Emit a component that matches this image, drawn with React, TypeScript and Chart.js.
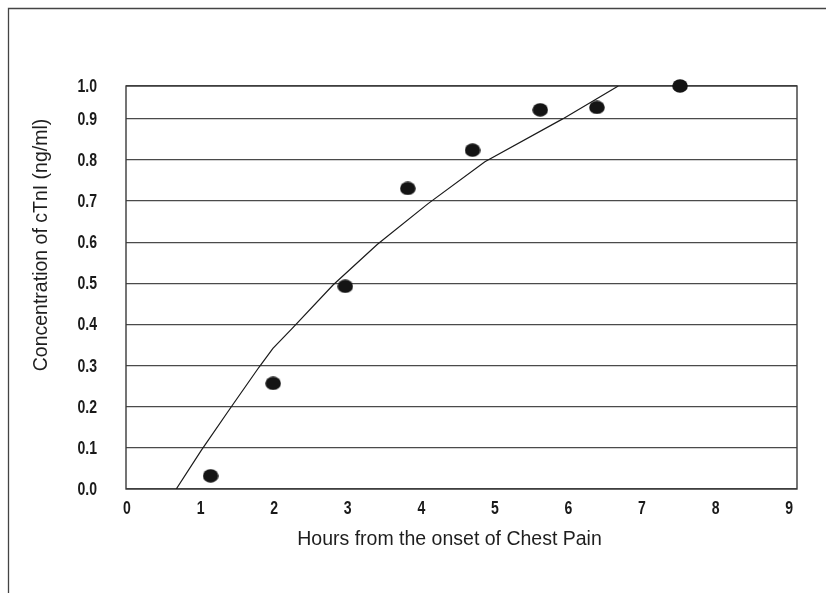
import React, { useEffect, useRef } from "react";
import { Chart, registerables } from "chart.js";

Chart.register(...registerables);

// Observed data points (hours, ng/ml)
const hours = [1.15, 2.0, 2.98, 3.83, 4.71, 5.63, 6.4, 7.53];
const ctni = [0.032, 0.257, 0.493, 0.731, 0.824, 0.922, 0.928, 0.98];

// Fitted curve drawn in the figure (hours, ng/ml)
const fitHours = [0.683, 1.023, 1.408, 1.807, 1.997, 2.256, 2.814, 3.418, 4.106, 4.878, 5.935, 6.691];
const fitCtni = [0, 0.094, 0.194, 0.296, 0.342, 0.39, 0.496, 0.595, 0.694, 0.796, 0.9, 0.98];

// Axis ticks (the top gridline of the original is labelled 1.0)
const xTickValues = [0, 1, 2, 3, 4, 5, 6, 7, 8, 9];
const xTickLabels = ["0", "1", "2", "3", "4", "5", "6", "7", "8", "9"];
const yTickValues = [0, 0.1, 0.2, 0.3, 0.4, 0.5, 0.6, 0.7, 0.8, 0.9, 0.98];
const yTickLabels = ["0.0", "0.1", "0.2", "0.3", "0.4", "0.5", "0.6", "0.7", "0.8", "0.9", "1.0"];

const xTitle = "Hours from the onset of Chest Pain";
const yTitle = "Concentration of cTnI (ng/ml)";

const TICK_FONT = "bold 18px 'Liberation Sans', Arial, sans-serif";
const TITLE_FONT = "19.5px 'Liberation Sans', Arial, sans-serif";

function makeDot(): HTMLCanvasElement {
  const c = document.createElement("canvas");
  c.width = 16;
  c.height = 14;
  const g = c.getContext("2d")!;
  g.fillStyle = "#141414";
  g.beginPath();
  g.ellipse(8, 7, 7.8, 6.8, 0, 0, Math.PI * 2);
  g.fill();
  return c;
}

export default function App() {
  const ref = useRef<HTMLCanvasElement | null>(null);

  useEffect(() => {
    if (!ref.current) return;

    const decor = {
      id: "decor",
      beforeDraw(chart: any) {
        const ctx = chart.ctx;
        ctx.save();
        ctx.fillStyle = "#ffffff";
        ctx.fillRect(0, 0, chart.width, chart.height);
        ctx.strokeStyle = "#444444";
        ctx.lineWidth = 1.3;
        ctx.beginPath();
        ctx.moveTo(8.5, chart.height);
        ctx.lineTo(8.5, 8.5);
        ctx.lineTo(chart.width, 8.5);
        ctx.stroke();
        ctx.restore();
      },
      beforeDatasetsDraw(chart: any) {
        const ctx = chart.ctx;
        const a = chart.chartArea;
        ctx.save();
        ctx.strokeStyle = "#3a3a3a";
        ctx.lineWidth = 1.4;
        ctx.strokeRect(a.left, a.top, a.right - a.left, a.bottom - a.top);
        ctx.restore();
      },
      afterDraw(chart: any) {
        const ctx = chart.ctx;
        const a = chart.chartArea;
        const xs = chart.scales.x;
        const ys = chart.scales.y;
        ctx.save();

        // tick labels (condensed bold, as in the original)
        ctx.fillStyle = "#1a1a1a";
        ctx.font = TICK_FONT;
        ctx.textBaseline = "middle";
        ctx.textAlign = "right";
        yTickValues.forEach((v, i) => {
          ctx.save();
          ctx.translate(a.left - 29, ys.getPixelForValue(v) + 1);
          ctx.scale(0.78, 1);
          ctx.fillText(yTickLabels[i], 0, 0);
          ctx.restore();
        });
        ctx.textAlign = "center";
        xTickValues.forEach((v, i) => {
          ctx.save();
          ctx.translate(xs.getPixelForValue(v) + 1, a.bottom + 20);
          ctx.scale(0.78, 1);
          ctx.fillText(xTickLabels[i], 0, 0);
          ctx.restore();
        });

        // axis titles
        ctx.fillStyle = "#1e1e1e";
        ctx.font = TITLE_FONT;
        ctx.textAlign = "center";
        ctx.textBaseline = "middle";
        ctx.fillText(xTitle, a.left + 323.5, a.bottom + 50.5);
        ctx.translate(a.left - 84.5, a.top + 159);
        ctx.rotate(-Math.PI / 2);
        ctx.fillText(yTitle, 0, 0);
        ctx.restore();
      },
    };

    const dot = makeDot();

    const chart = new Chart(ref.current, {
      type: "scatter",
      data: {
        datasets: [
          {
            label: "fit",
            data: fitHours.map((x, i) => ({ x, y: fitCtni[i] })),
            showLine: true,
            borderColor: "#1a1a1a",
            borderWidth: 1.2,
            pointRadius: 0,
            tension: 0,
            fill: false,
          },
          {
            label: "cTnI",
            data: hours.map((x, i) => ({ x, y: ctni[i] })),
            showLine: false,
            pointStyle: dot as any,
            pointRadius: 7,
            clip: false as any,
          },
        ],
      },
      plugins: [decor],
      options: {
        animation: false,
        responsive: false,
        maintainAspectRatio: false,
        layout: { padding: { left: 66, top: 86, right: 29, bottom: 64 } },
        plugins: {
          legend: { display: false },
          tooltip: { enabled: false },
          title: { display: false },
        },
        scales: {
          x: {
            type: "linear",
            min: 0,
            max: 9.12,
            afterBuildTicks: (s: any) => {
              s.ticks = xTickValues.map((v) => ({ value: v }));
            },
            afterFit: (s: any) => {
              s.height = 40;
            },
            grid: { display: false, drawTicks: false },
            border: { display: false },
            ticks: { display: false },
          },
          y: {
            type: "linear",
            min: 0,
            max: 0.98,
            afterBuildTicks: (s: any) => {
              s.ticks = yTickValues.map((v) => ({ value: v }));
            },
            afterFit: (s: any) => {
              s.width = 60;
            },
            grid: { color: "#4a4a4a", lineWidth: 1.3, drawTicks: false },
            border: { display: false },
            ticks: { display: false },
          },
        },
      },
    });
    return () => chart.destroy();
  }, []);

  return (
    <div style={{ position: "fixed", left: 0, top: 0, width: 826, height: 593, background: "#fff" }}>
      <canvas ref={ref} width={826} height={593} style={{ width: 826, height: 593, display: "block" }} />
    </div>
  );
}
